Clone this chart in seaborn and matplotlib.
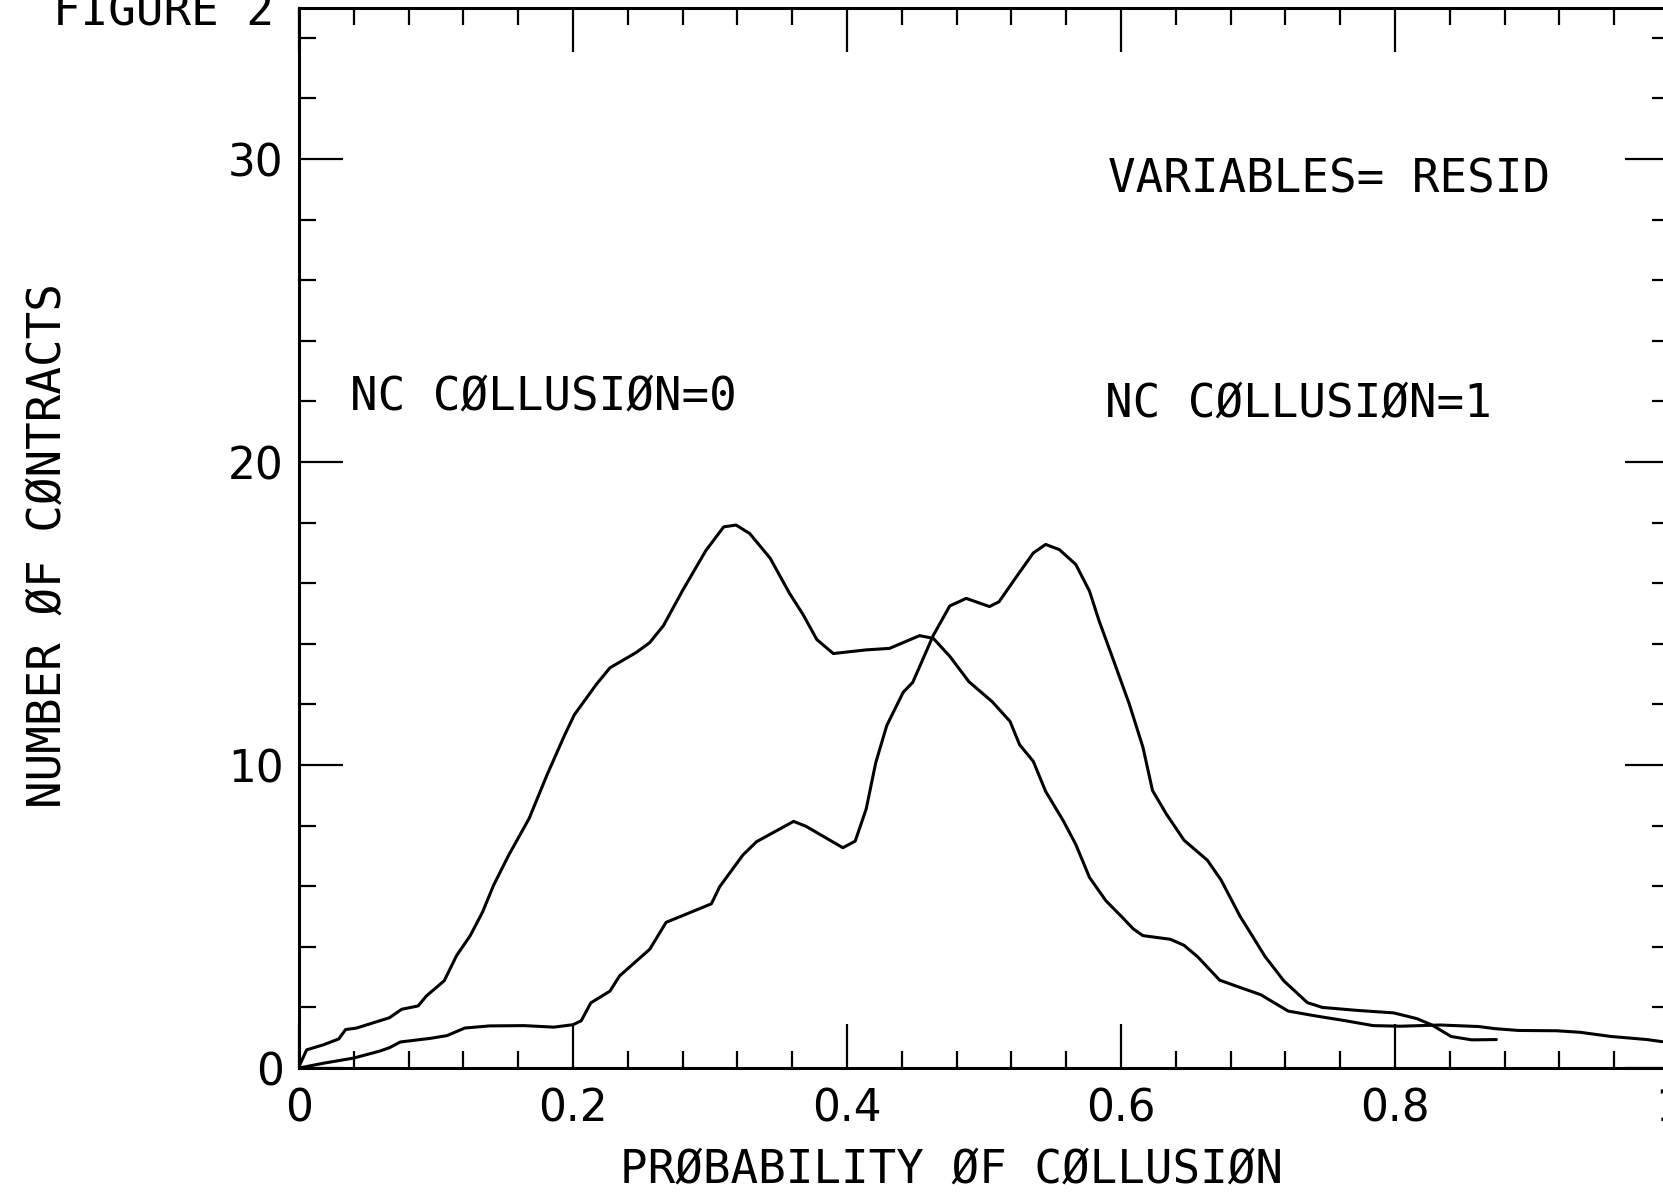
import matplotlib
matplotlib.use("Agg")
import matplotlib.pyplot as plt
import numpy as np
import pandas as pd
import seaborn as sns
from matplotlib.ticker import MultipleLocator, FixedLocator, FixedFormatter

# ---- data ----
x_c0 = [0.000, 0.0056, 0.018, 0.029, 0.034, 0.042, 0.054, 0.066, 0.075, 0.087,
        0.093, 0.106, 0.115, 0.125, 0.134, 0.142, 0.153, 0.168, 0.181, 0.194,
        0.201, 0.217, 0.227, 0.246, 0.256, 0.266, 0.280, 0.297, 0.310, 0.319,
        0.329, 0.344, 0.358, 0.368, 0.378, 0.390, 0.414, 0.431, 0.453, 0.463,
        0.475, 0.489, 0.506, 0.519, 0.526, 0.536, 0.545, 0.558, 0.567, 0.577,
        0.589, 0.601, 0.609, 0.616, 0.636, 0.646, 0.656, 0.672, 0.685, 0.702,
        0.722, 0.742, 0.764, 0.784, 0.804, 0.833, 0.861, 0.873, 0.890, 0.918,
        0.935, 0.958, 0.984, 0.995]
y_c0 = [0.05, 0.60, 0.77, 0.96, 1.27, 1.32, 1.49, 1.66, 1.94, 2.05,
        2.38, 2.88, 3.71, 4.37, 5.15, 6.03, 7.02, 8.24, 9.67, 11.00,
        11.66, 12.66, 13.21, 13.71, 14.04, 14.60, 15.76, 17.08, 17.86, 17.92,
        17.64, 16.82, 15.67, 14.96, 14.14, 13.68, 13.80, 13.85, 14.27, 14.18,
        13.59, 12.75, 12.09, 11.44, 10.67, 10.12, 9.13, 8.15, 7.38, 6.29,
        5.52, 4.97, 4.59, 4.37, 4.25, 4.05, 3.67, 2.90, 2.69, 2.42,
        1.88, 1.72, 1.56, 1.40, 1.38, 1.42, 1.37, 1.30, 1.24, 1.23,
        1.18, 1.04, 0.94, 0.87]

x_c1 = [0.000, 0.018, 0.040, 0.059, 0.066, 0.074, 0.096, 0.108, 0.121, 0.139,
        0.164, 0.186, 0.200, 0.206, 0.213, 0.227, 0.234, 0.256, 0.268, 0.280,
        0.301, 0.307, 0.324, 0.334, 0.361, 0.370, 0.397, 0.406, 0.414, 0.421,
        0.429, 0.441, 0.448, 0.463, 0.475, 0.487, 0.504, 0.511, 0.523, 0.536,
        0.545, 0.555, 0.567, 0.577, 0.584, 0.592, 0.606, 0.616, 0.623, 0.633,
        0.646, 0.663, 0.673, 0.687, 0.696, 0.705, 0.719, 0.736, 0.747, 0.773,
        0.799, 0.816, 0.827, 0.841, 0.856, 0.874]
y_c1 = [0.00, 0.16, 0.33, 0.56, 0.67, 0.86, 0.98, 1.07, 1.32, 1.39,
        1.40, 1.35, 1.43, 1.56, 2.15, 2.54, 3.04, 3.92, 4.81, 5.03,
        5.42, 5.98, 7.03, 7.47, 8.14, 7.98, 7.27, 7.49, 8.55, 10.08,
        11.30, 12.40, 12.73, 14.28, 15.25, 15.50, 15.23, 15.39, 16.17, 17.00,
        17.28, 17.11, 16.62, 15.74, 14.76, 13.77, 12.02, 10.59, 9.16, 8.39,
        7.52, 6.86, 6.21, 5.00, 4.35, 3.69, 2.87, 2.16, 2.00, 1.90,
        1.82, 1.63, 1.42, 1.04, 0.93, 0.94]

x_ticks = [0.0, 0.2, 0.4, 0.6, 0.8, 1.0]
x_tick_labels = ["0", "0.2", "0.4", "0.6", "0.8", "1"]
y_ticks = [0, 10, 20, 30]
y_tick_labels = ["0", "10", "20", "30"]

title_text = "FIGURE 2"
var_text = "VARIABLES= RESID"
label0 = "NC C\u00d8LLUSI\u00d8N=0"
label1 = "NC C\u00d8LLUSI\u00d8N=1"
x_label = "PR\u00d8BABILITY \u00d8F C\u00d8LLUSI\u00d8N"
y_label = "NUMBER \u00d8F C\u00d8NTRACTS"

# ---- style ----
sns.set_style("ticks")
plt.rcParams["font.family"] = ["DejaVu Sans"]
mono = ["DejaVu Sans Mono", "DejaVu Sans"]

fig = plt.figure(figsize=(16.63, 11.94), dpi=100)
fig.patch.set_facecolor("white")
ax = fig.add_axes([0.1798, 0.1055, 0.8238, 0.8882])
ax.set_facecolor("white")

df0 = pd.DataFrame({"p": x_c0, "n": y_c0})
df1 = pd.DataFrame({"p": x_c1, "n": y_c1})
sns.lineplot(data=df0, x="p", y="n", ax=ax, color="black", linewidth=2.2,
             sort=False, estimator=None)
sns.lineplot(data=df1, x="p", y="n", ax=ax, color="black", linewidth=2.2,
             sort=False, estimator=None)

ax.set_xlim(0, 1.0)
ax.set_ylim(0, 35)
ax.xaxis.set_major_locator(FixedLocator(x_ticks))
ax.xaxis.set_major_formatter(FixedFormatter(x_tick_labels))
ax.xaxis.set_minor_locator(MultipleLocator(0.04))
ax.yaxis.set_major_locator(FixedLocator(y_ticks))
ax.yaxis.set_major_formatter(FixedFormatter(y_tick_labels))
ax.yaxis.set_minor_locator(MultipleLocator(2))

ax.tick_params(which="both", direction="in", top=True, right=True,
               colors="black", width=1.6)
ax.tick_params(which="major", length=32)
ax.tick_params(which="minor", length=12)
ax.tick_params(axis="x", which="major", labelsize=31.5, pad=14)
ax.tick_params(axis="y", which="major", labelsize=31.5, pad=11)
for s in ax.spines.values():
    s.set_visible(True)
    s.set_color("black")
    s.set_linewidth(2.2)

ax.set_xlabel("")
ax.set_ylabel("")

fig.text(0.5719, 0.0095, x_label, ha="center", va="baseline",
         fontsize=33, family=mono, color="black")
fig.text(0.0287, 0.5427, y_label, ha="center", va="center", rotation=90,
         fontsize=33, family=mono, color="black")
fig.text(0.0319, 0.979, title_text, ha="left", va="baseline",
         fontsize=33, family=mono, color="black")
fig.text(0.6663, 0.8386, var_text, ha="left", va="baseline",
         fontsize=33, family=mono, color="black")
fig.text(0.2105, 0.6571, label0, ha="left", va="baseline",
         fontsize=33, family=mono, color="black")
fig.text(0.6645, 0.6508, label1, ha="left", va="baseline",
         fontsize=33, family=mono, color="black")

fig.savefig("out.png", dpi=100, facecolor="white")
